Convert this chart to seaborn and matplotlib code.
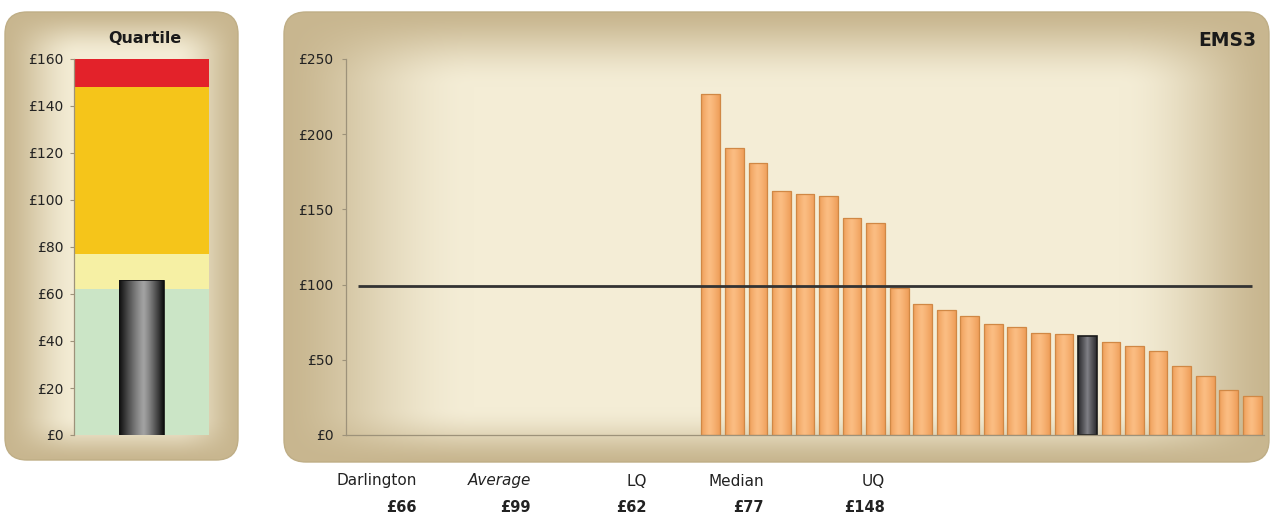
import numpy as np
import pandas as pd
import matplotlib
matplotlib.use("Agg")
import matplotlib.pyplot as plt
import seaborn as sns
from matplotlib.patches import FancyBboxPatch
from matplotlib.colors import to_rgb

# ---------------- data ----------------
authorities = [f"Authority {i}" for i in range(1, 17)] + ["Darlington"] + \
              [f"Authority {i}" for i in range(17, 24)]
costs = [227, 191, 181, 162, 160, 159, 144, 141, 98, 87, 83, 79,
         74, 72, 68, 67, 66, 62, 59, 56, 46, 39, 30, 26]

darlington_cost = 66
average_cost = 99
lower_quartile = 62
median_cost = 77
upper_quartile = 148
quartile_scale_top = 160

main_ticks = [0, 50, 100, 150, 200, 250]
main_tick_labels = ["£0", "£50", "£100", "£150", "£200", "£250"]
quart_ticks = [0, 20, 40, 60, 80, 100, 120, 140, 160]
quart_tick_labels = ["£0", "£20", "£40", "£60", "£80", "£100", "£120", "£140", "£160"]

summary_names = ["Darlington", "Average", "LQ", "Median", "UQ"]
summary_values = ["£66", "£99", "£62", "£77", "£148"]

# ---------------- styling ----------------
sns.set_theme(style="white")
plt.rcParams["font.family"] = ["DejaVu Sans"]

W, H = 1271, 519
fig = plt.figure(figsize=(W / 100, H / 100), dpi=100, facecolor="white")

TAN = np.array(to_rgb("#c8b68f"))
CREAM = np.array(to_rgb("#f4edd6"))
TEXT = "#222222"
SPINE = "#9d927a"


def fig_rect(x0, y0, x1, y1):
    """Pixel box (top-left origin) -> figure fraction rect."""
    return [x0 / W, 1 - y1 / H, (x1 - x0) / W, (y1 - y0) / H]


# background canvas in pixel coordinates
bg = fig.add_axes([0, 0, 1, 1], zorder=-5)
bg.set_xlim(0, W)
bg.set_ylim(H, 0)
bg.axis("off")


def smooth(t):
    t = np.clip(t, 0, 1)
    return t * t * (3 - 2 * t)


def panel(x0, y0, x1, y1, ramp_l, ramp_r, ramp_t, ramp_b, radius=22):
    w, h = x1 - x0, y1 - y0
    X, Y = np.meshgrid(np.arange(int(w)) + 0.5, np.arange(int(h)) + 0.5)
    t = smooth(X / ramp_l) * smooth((w - X) / ramp_r) * \
        smooth(Y / ramp_t) * smooth((h - Y) / ramp_b)
    t = t ** 0.8
    img = TAN[None, None, :] * (1 - t[..., None]) + CREAM[None, None, :] * t[..., None]
    box = FancyBboxPatch((x0, y0), w, h,
                         boxstyle=f"round,pad=0,rounding_size={radius}",
                         facecolor="none", edgecolor="#bfae86", linewidth=1.0,
                         transform=bg.transData, zorder=2)
    bg.add_patch(box)
    im = bg.imshow(img, extent=(x0, x1, y1, y0), origin="upper",
                   aspect="auto", interpolation="bilinear", zorder=1)
    im.set_clip_path(box)


panel(5, 12, 238, 460, 75, 65, 45, 45)
panel(284, 12, 1269, 462, 190, 150, 75, 55)
bg.set_xlim(0, W)
bg.set_ylim(H, 0)


def cylinder(ax, patch, edge, mid, peak=0.55, power=1.6):
    """Fill a bar patch with a horizontal shaded gradient."""
    x0, y0 = patch.get_x(), patch.get_y()
    w, h = patch.get_width(), patch.get_height()
    s = np.linspace(0, 1, 96)
    d = np.where(s < peak, (peak - s) / peak, (s - peak) / (1 - peak))
    prof = 1 - d ** power
    e, m = np.array(to_rgb(edge)), np.array(to_rgb(mid))
    row = e[None, :] * (1 - prof[:, None]) + m[None, :] * prof[:, None]
    im = ax.imshow(row[None, :, :], extent=(x0, x0 + w, y0, y0 + h),
                   origin="lower", aspect="auto", interpolation="bilinear",
                   zorder=patch.get_zorder() - 0.2)
    im.set_clip_path(patch)
    patch.set_facecolor("none")


def style_axis(ax, ticks, labels, pad):
    ax.set_facecolor("none")
    for side in ("top", "right"):
        ax.spines[side].set_visible(False)
    for side in ("left", "bottom"):
        ax.spines[side].set_visible(True)
        ax.spines[side].set_color(SPINE)
        ax.spines[side].set_linewidth(0.9)
    ax.set_yticks(ticks)
    ax.set_yticklabels(labels)
    ax.tick_params(axis="y", left=True, length=3, width=0.8, color=SPINE,
                   pad=pad, labelsize=10, labelcolor=TEXT)
    ax.set_xticks([])
    ax.set_xlabel("")
    ax.set_ylabel("")
    ax.grid(False)


# ---------------- quartile panel ----------------
axq = fig.add_axes(fig_rect(74, 59, 209, 435))
band_edges = [0, lower_quartile, median_cost, upper_quartile, quartile_scale_top]
band_colors = ["#cbe5c6", "#f6f0a4", "#f5c51a", "#e3222a"]
for lo, hi, c in zip(band_edges[:-1], band_edges[1:], band_colors):
    axq.bar(0, hi - lo, bottom=lo, width=1.0, color=c, linewidth=0, zorder=0.5)

sns.barplot(x=["Darlington"], y=[darlington_cost], color="#555555",
            width=0.333, saturation=1, edgecolor="#111111", linewidth=0.6,
            ax=axq, zorder=3)
for p in axq.patches:
    if p.get_zorder() == 3:
        cylinder(axq, p, "#0d0d0d", "#a3a3a3", peak=0.55, power=1.2)

axq.set_xlim(-0.5, 0.5)
axq.set_ylim(0, quartile_scale_top)
style_axis(axq, quart_ticks, quart_tick_labels, pad=4.5)
axq.spines["bottom"].set_visible(False)
fig.text(145 / W, 1 - 38.5 / H, "Quartile", ha="center", va="center",
         fontsize=11.5, fontweight="bold", color="#1a1a1a")

# ---------------- main comparison panel ----------------
axm = fig.add_axes(fig_rect(346, 59, 1264, 435))
df = pd.DataFrame({"authority": authorities, "cost": costs})
df["group"] = np.where(df["authority"] == "Darlington", "Darlington", "Other")

ORANGE, DARK = "#f4a865", "#6e6e72"
sns.barplot(data=df, x="authority", y="cost", hue="group",
            palette={"Other": ORANGE, "Darlington": DARK}, dodge=False,
            width=0.8, saturation=1, legend=False, ax=axm,
            edgecolor="#d08845", linewidth=0.9)
for p in list(axm.patches):
    fc = p.get_facecolor()[:3]
    if np.allclose(fc, to_rgb(DARK), atol=0.02):
        p.set_edgecolor("#1a1a1a")
        p.set_linewidth(1.2)
        cylinder(axm, p, "#2a2a2d", "#828288", peak=0.5, power=0.9)
    else:
        cylinder(axm, p, "#ee9d58", "#fbbd82", peak=0.45, power=1.3)

# average line spans the full category range
axm.hlines(average_cost, -15, 23, color="#333333", linewidth=2.0, zorder=4)

axm.set_xlim(-15.5, 23.5)
axm.set_ylim(0, 250)
style_axis(axm, main_ticks, main_tick_labels, pad=6)

fig.text(1256 / W, 1 - 41 / H, "EMS3", ha="right", va="center",
         fontsize=13.5, fontweight="bold", color="#1a1a1a")

# ---------------- summary row ----------------
right_edges = [417, 531, 647, 764, 885]
for name, val, xr in zip(summary_names, summary_values, right_edges):
    fig.text(xr / W, 1 - 481 / H, name, ha="right", va="center",
             fontsize=11, color=TEXT,
             style="italic" if name == "Average" else "normal")
    fig.text(xr / W, 1 - 508 / H, val, ha="right", va="center",
             fontsize=10.5, fontweight="bold", color=TEXT)

fig.savefig("out.png", dpi=100, facecolor="white")
